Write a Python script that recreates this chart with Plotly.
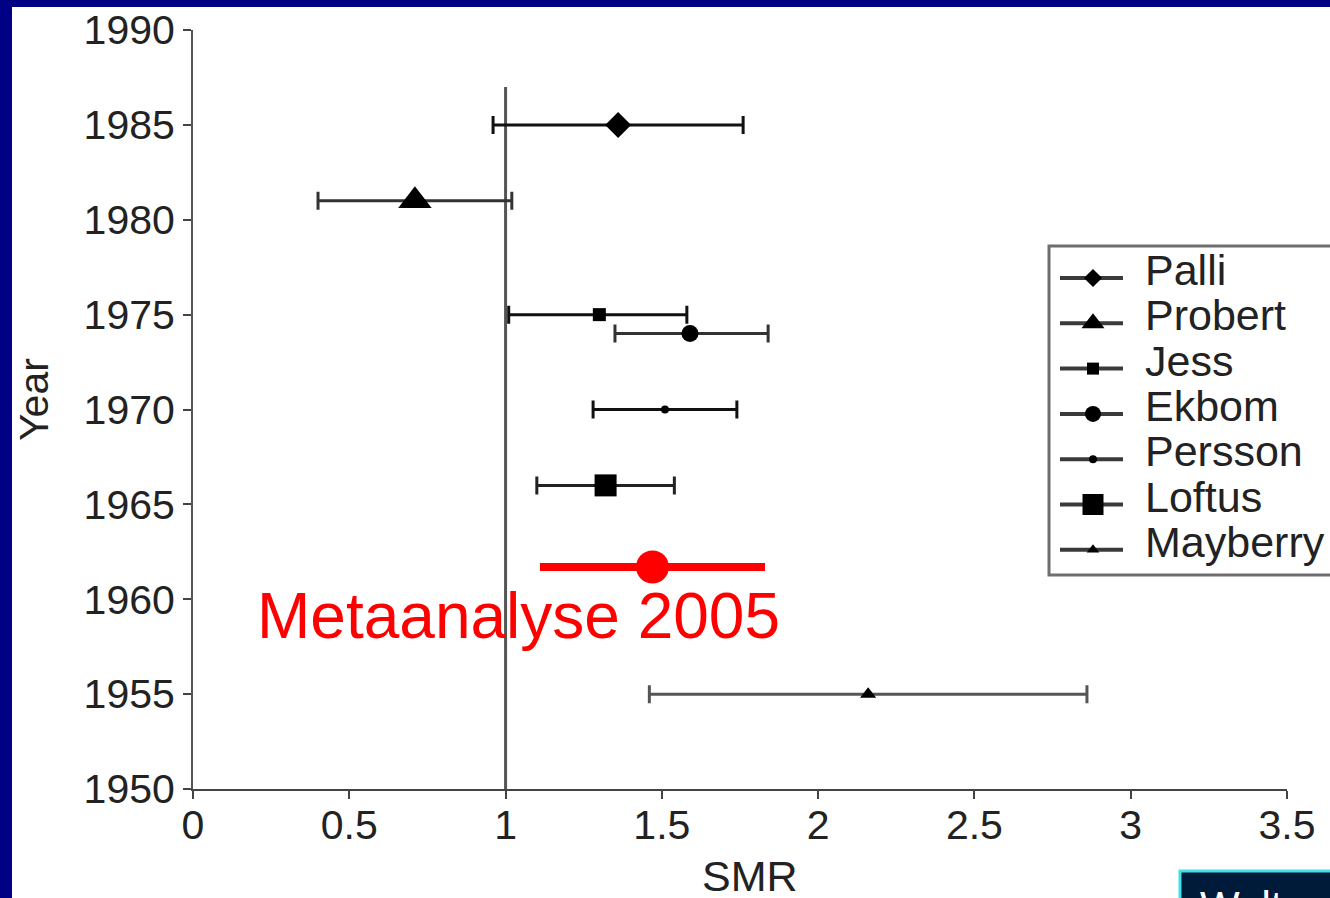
import plotly.graph_objects as go

# Study estimates: standardized mortality ratio (SMR) with 95% CI, by study year
studies = ["Palli", "Probert", "Jess", "Ekbom", "Persson", "Loftus", "Mayberry"]
years = [1985.0, 1981.0, 1975.0, 1974.0, 1970.0, 1966.0, 1955.0]
smr = [1.36, 0.71, 1.30, 1.59, 1.51, 1.32, 2.16]
ci_low = [0.96, 0.40, 1.01, 1.35, 1.28, 1.10, 1.46]
ci_high = [1.76, 1.02, 1.58, 1.84, 1.74, 1.54, 2.86]

# Pooled estimate of the meta-analysis
meta_label = "Metaanalyse 2005"
meta_year = 1961.7
meta_smr = 1.47
meta_low = 1.11
meta_high = 1.83

# Reference line at SMR = 1
ref_smr = 1.0
ref_top = 1987.0

x_range = [0, 3.5]
y_range = [1950, 1990]
x_ticks = [0, 0.5, 1, 1.5, 2, 2.5, 3, 3.5]
x_ticktext = ["0", "0.5", "1", "1.5", "2", "2.5", "3", "3.5"]
y_ticks = [1950, 1955, 1960, 1965, 1970, 1975, 1980, 1985, 1990]

symbols = ["diamond", "triangle-up", "square", "circle", "circle", "square", "triangle-up"]
sizes = [20, 29, 13, 17, 8, 22, 14]
legend_sizes = [14, 20, 12, 16, 8, 21, 11]
colors = ["#111111", "#333333", "#111111", "#333333", "#111111", "#222222", "#555555"]

FONT = "Liberation Sans, Arial, sans-serif"
W, H = 1330, 898
ML, MR, MT, MB = 193, 43, 30, 109


def px_x(px):
    """pixel column -> paper x"""
    return (px - ML) / (W - ML - MR)


def px_y(py):
    """pixel row -> paper y"""
    return (H - MB - py) / (H - MT - MB)


fig = go.Figure()

for name, y, x, lo, hi, sym, sz, col in zip(studies, years, smr, ci_low, ci_high,
                                              symbols, sizes, colors):
    fig.add_trace(go.Scatter(
        x=[x], y=[y], name=name, mode="markers", showlegend=False,
        marker=dict(symbol=sym, size=sz, color="black"),
        error_x=dict(type="data", symmetric=False,
                     array=[hi - x], arrayminus=[x - lo],
                     color=col, thickness=3, width=9),
    ))

fig.add_trace(go.Scatter(
    x=[meta_smr], y=[meta_year], mode="markers", showlegend=False,
    marker=dict(symbol="circle", size=33, color="#ff0000"),
    error_x=dict(type="data", symmetric=False,
                 array=[meta_high - meta_smr], arrayminus=[meta_smr - meta_low],
                 color="#ff0000", thickness=8, width=0),
))

# navy slide background with white panel
fig.add_shape(type="rect", xref="paper", yref="paper",
              x0=px_x(12), x1=px_x(1345), y0=px_y(910), y1=px_y(7),
              fillcolor="white", line=dict(width=0), layer="below")

fig.add_shape(type="line", xref="x", yref="y",
              x0=ref_smr, x1=ref_smr, y0=y_range[0], y1=ref_top,
              line=dict(color="#555555", width=3), layer="below")

# boxed key of the studies (drawn below the key symbols)
fig.add_shape(type="rect", xref="paper", yref="paper",
              x0=px_x(1049), x1=px_x(1360), y0=px_y(575), y1=px_y(246),
              fillcolor="white", line=dict(color="#6e6e6e", width=3), layer="below")
row0, row_gap = 278, 45.3
key_x, key_y = [], []
for i, name in enumerate(studies):
    yy = row0 + i * row_gap
    # key symbol centre, converted from the box layout into axis units
    key_x.append(x_range[0] + px_x(1093) * (x_range[1] - x_range[0]))
    key_y.append(y_range[0] + px_y(yy) * (y_range[1] - y_range[0]))
    fig.add_shape(type="line", xref="paper", yref="paper",
                  x0=px_x(1060), x1=px_x(1123), y0=px_y(yy), y1=px_y(yy),
                  line=dict(color="#3a3a3a", width=4), layer="below")
    fig.add_annotation(text=name, xref="paper", yref="paper",
                       x=px_x(1143), y=px_y(yy - 8), xanchor="left", yanchor="middle",
                       showarrow=False,
                       font=dict(family=FONT, size=43, color="#222222"))
fig.add_trace(go.Scatter(
    x=key_x, y=key_y, mode="markers", showlegend=False, hoverinfo="skip",
    cliponaxis=False,
    marker=dict(symbol=symbols, size=legend_sizes, color="black", opacity=1,
                line=dict(width=0)),
))

# footer box in the lower right corner
fig.add_shape(type="rect", xref="paper", yref="paper",
              x0=px_x(1180), x1=px_x(1360), y0=px_y(871), y1=px_y(920),
              fillcolor="#001a3a", line=dict(color="#40e0e8", width=3))
fig.add_annotation(text="Walter", xref="paper", yref="paper",
                   x=px_x(1198), y=px_y(881), xanchor="left", yanchor="top",
                   showarrow=False, font=dict(family=FONT, size=42, color="white"))

fig.add_annotation(text=meta_label, x=1.04, y=1959.1, xref="x", yref="y",
                   showarrow=False, xanchor="center", yanchor="middle",
                   font=dict(family=FONT, size=64, color="#ff0000"))

# axis titles
fig.add_annotation(text="SMR", xref="paper", yref="paper",
                   x=px_x(750), y=px_y(876), xanchor="center", yanchor="middle",
                   showarrow=False, font=dict(family=FONT, size=43, color="#222222"))
fig.add_annotation(text="Year", xref="paper", yref="paper", textangle=-90,
                   x=px_x(34), y=px_y(400), xanchor="center", yanchor="middle",
                   showarrow=False, font=dict(family=FONT, size=41, color="#222222"))

fig.update_layout(
    width=W, height=H,
    margin=dict(l=ML, r=MR, t=MT, b=MB, autoexpand=False),
    paper_bgcolor="#000085",
    plot_bgcolor="rgba(0,0,0,0)",
    font=dict(family=FONT, color="#222222"),
    showlegend=False,
    xaxis=dict(
        range=x_range, tickvals=x_ticks, ticktext=x_ticktext,
        showgrid=False, zeroline=False, automargin=False,
        showline=True, linecolor="#444444", linewidth=2,
        ticks="outside", ticklen=8, tickwidth=2, tickcolor="#444444",
        ticklabelstandoff=-9,
        tickfont=dict(family=FONT, size=41, color="#222222"),
    ),
    yaxis=dict(
        range=y_range, tickvals=y_ticks,
        showgrid=False, zeroline=False, automargin=False,
        showline=True, linecolor="#555555", linewidth=2,
        ticks="outside", ticklen=8, tickwidth=2, tickcolor="#444444",
        tickfont=dict(family=FONT, size=41, color="#222222"),
    ),
)

fig.write_html("out.html")
